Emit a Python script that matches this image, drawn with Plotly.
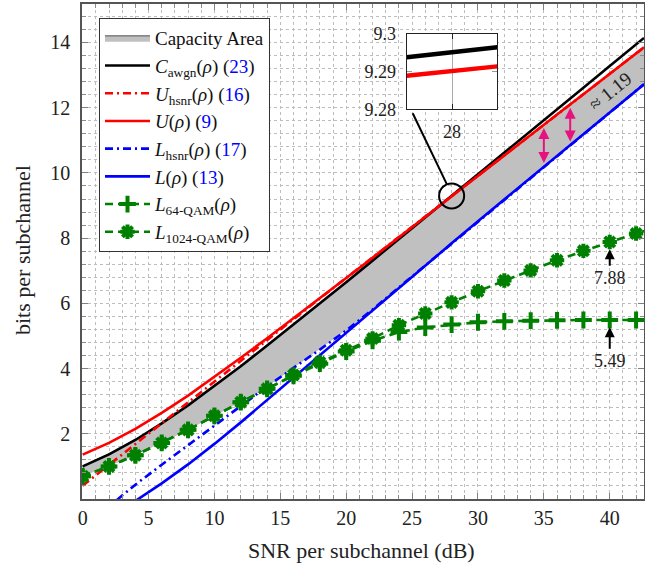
import numpy as np
import plotly.graph_objects as go

# ---------------- data ----------------
X_BOUND = [0, 2, 4, 6, 8, 10, 12, 14, 16, 18, 20, 22, 24, 26, 28, 30, 32, 34, 36, 38, 40, 42, 42.6]
C_AWGN = [1.00, 1.37, 1.81, 2.32, 2.87, 3.46, 4.07, 4.71, 5.35, 6.00, 6.65, 7.31, 7.97, 8.63,
          9.295, 9.96, 10.62, 11.29, 11.95, 12.61, 13.28, 13.94, 14.14]
U_UP = [1.36, 1.72, 2.15, 2.64, 3.17, 3.74, 4.33, 4.93, 5.54, 6.16, 6.78, 7.40, 8.03, 8.66,
        9.29, 9.91, 10.54, 11.17, 11.79, 12.41, 13.04, 13.66, 13.85]
U_HSNR = [0.41, 1.05, 1.69, 2.32, 2.95, 3.59, 4.23, 4.88, 5.52, 6.15, 6.78, 7.40, 8.03, 8.66,
          9.29, 9.91, 10.54, 11.17, 11.79, 12.41, 13.04, 13.66, 13.85]

X_L = [4, 6, 8, 10, 12, 14, 16, 18, 20, 22, 24, 26, 28, 30, 32, 34, 36, 38, 40, 42, 42.6]
L_LOW = [-0.06, 0.48, 1.06, 1.69, 2.35, 3.04, 3.73, 4.42, 5.11, 5.80, 6.48, 7.16, 7.84, 8.52,
         9.19, 9.86, 10.53, 11.19, 11.86, 12.53, 12.72]
X_LH = [2.6, 4, 6, 8, 10, 12, 14, 16, 18, 20, 22, 24, 26, 28, 30, 32, 34, 36, 38, 40, 42, 42.6]
L_HSNR = [-0.03, 0.44, 1.05, 1.66, 2.25, 2.85, 3.45, 4.02, 4.58, 5.17, 5.81, 6.49, 7.16, 7.84,
          8.52, 9.19, 9.86, 10.53, 11.19, 11.86, 12.53, 12.72]

X_QAM = [0, 2, 4, 6, 8, 10, 12, 14, 16, 18, 20, 22, 24, 26, 28, 30, 32, 34, 36, 38, 40, 42, 44]
QAM64 = [0.70, 1.00, 1.34, 1.72, 2.12, 2.55, 2.97, 3.38, 3.78, 4.15, 4.52, 4.85, 5.12, 5.26,
         5.35, 5.42, 5.45, 5.47, 5.48, 5.49, 5.49, 5.49, 5.49]
QAM1024 = [0.70, 1.00, 1.34, 1.72, 2.12, 2.55, 2.97, 3.38, 3.80, 4.19, 4.56, 4.92, 5.33, 5.69,
           6.03, 6.37, 6.70, 7.01, 7.32, 7.61, 7.88, 8.14, 8.39]

# inset (zoom at 28 dB)
INSET_X = [27.996, 28.004]
INSET_C = [9.2938, 9.2965]
INSET_U = [9.2889, 9.2914]

X_TICKS = [0, 5, 10, 15, 20, 25, 30, 35, 40]
Y_TICKS = [2, 4, 6, 8, 10, 12, 14]
INSET_YTICKS = [9.28, 9.29, 9.30]
INSET_YTEXT = ["9.28", "9.29", "9.3"]
INSET_XTICKS = [28]

ZOOM_X = 28
GAP_X = [35, 37]
LABEL_X = 40
LABEL_64 = "5.49"
LABEL_1024 = "7.88"
GAP_TEXT = "≈ 1.19"
X_TITLE = "SNR per subchannel (dB)"
Y_TITLE = "bits per subchannel"

# ---------------- derived capacity area ----------------
grid = np.linspace(0, 42.6, 427)
upper = np.minimum(np.interp(grid, X_BOUND, C_AWGN), np.interp(grid, X_BOUND, U_UP))
lower = np.maximum.reduce([
    np.interp(grid, X_QAM, QAM1024),
    np.interp(grid, X_QAM, QAM64),
    np.interp(grid, X_L, L_LOW, left=-np.inf),
    np.interp(grid, X_LH, L_HSNR, left=-np.inf),
])

FONT = "Liberation Serif"
RED = "#ff0000"
BLUE = "#0000ff"
GREEN = "#008000"
MAG = "#e6137f"

fig = go.Figure()

fig.add_trace(go.Scatter(x=grid, y=lower, mode="lines", line=dict(width=0, color="#c0c0c0"),
                         showlegend=False, hoverinfo="skip"))
fig.add_trace(go.Scatter(x=grid, y=upper, mode="lines", fill="tonexty", fillcolor="#c0c0c0",
                         line=dict(width=1, color="#505050"), name="Capacity Area",
                         legendgroup="a"))

def lab(sym, sub, eq=None):
    s = f"<i>{sym}</i><sub>{sub}</sub>(<i>ρ</i>)" if sub else f"<i>{sym}</i>(<i>ρ</i>)"
    if eq is not None:
        s += f" (<span style='color:#0000ff'>{eq}</span>)"
    return s

fig.add_trace(go.Scatter(x=X_BOUND, y=C_AWGN, mode="lines", line=dict(color="black", width=2.6),
                         name=lab("C", "awgn", 23), legendgroup="b"))
fig.add_trace(go.Scatter(x=X_BOUND, y=U_HSNR, mode="lines",
                         line=dict(color=RED, width=2.6, dash="8px,4px,2px,4px"),
                         name=lab("U", "hsnr", 16), legendgroup="c"))
fig.add_trace(go.Scatter(x=X_BOUND, y=U_UP, mode="lines", line=dict(color=RED, width=2.6),
                         name=lab("U", None, 9), legendgroup="d"))
fig.add_trace(go.Scatter(x=X_LH, y=L_HSNR, mode="lines",
                         line=dict(color=BLUE, width=2.6, dash="8px,4px,2px,4px"),
                         name=lab("L", "hsnr", 17), legendgroup="e"))
fig.add_trace(go.Scatter(x=X_L, y=L_LOW, mode="lines", line=dict(color=BLUE, width=2.6),
                         name=lab("L", None, 13), legendgroup="f"))
fig.add_trace(go.Scatter(x=X_QAM, y=QAM64, mode="lines+markers",
                         line=dict(color=GREEN, width=2.6, dash="8px,5px"),
                         marker=dict(symbol="cross-thin-open", size=12,
                                     line=dict(color=GREEN, width=4)),
                         name="<i>L</i><sub>64-QAM</sub>(<i>ρ</i>)", legendgroup="g"))
fig.add_trace(go.Scatter(x=X_QAM, y=QAM1024, mode="lines+markers",
                         line=dict(color=GREEN, width=2.6, dash="8px,5px"),
                         marker=dict(symbol="asterisk-open", size=12,
                                     line=dict(color=GREEN, width=4)),
                         name="<i>L</i><sub>1024-QAM</sub>(<i>ρ</i>)", legendgroup="h"))

# inset traces
fig.add_trace(go.Scatter(x=INSET_X, y=INSET_C, mode="lines", line=dict(color="black", width=4.5),
                         xaxis="x2", yaxis="y2", showlegend=False))
fig.add_trace(go.Scatter(x=INSET_X, y=INSET_U, mode="lines", line=dict(color=RED, width=4.5),
                         xaxis="x2", yaxis="y2", showlegend=False))

# ---------------- layout ----------------
L_M, R_M, T_M, B_M = 82, 1, 4, 73
W, H = 645, 572
PW, PH = W - L_M - R_M, H - T_M - B_M

def px2paper(px, py):
    return (px - L_M) / PW, 1 - (py - T_M) / PH

grid_style = dict(showgrid=True, gridcolor="#bdbdbd", griddash="dot", gridwidth=1)

fig.update_layout(
    width=W, height=H,
    margin=dict(l=L_M, r=R_M, t=T_M, b=B_M, autoexpand=False),
    paper_bgcolor="white", plot_bgcolor="white",
    font=dict(family=FONT, color="#222", size=18),
    xaxis=dict(range=[-0.05, 42.6], tickmode="array", tickvals=X_TICKS, automargin=False,
               ticks="inside", ticklen=6, tickcolor="#808080", tickwidth=1,
               showline=True, linecolor="#555", linewidth=1.6, mirror="ticks",
               zeroline=False, tickfont=dict(size=20, family=FONT), ticklabelstandoff=0,
               minor=dict(tickmode="linear", tick0=0, dtick=1, ticks="inside", ticklen=4,
                          tickcolor="#8c8c8c", showgrid=True, gridcolor="#bdbdbd",
                          griddash="dot"),
               **grid_style),
    yaxis=dict(range=[0, 15.18], tickmode="array", tickvals=Y_TICKS, automargin=False,
               ticks="inside", ticklen=6, tickcolor="#808080", tickwidth=1,
               showline=True, linecolor="#555", linewidth=1.6, mirror="ticks",
               zeroline=False, tickfont=dict(size=20, family=FONT), ticklabelstandoff=6,
               minor=dict(tickmode="linear", tick0=0, dtick=0.4, ticks="inside", ticklen=4,
                          tickcolor="#8c8c8c", showgrid=True, gridcolor="#bdbdbd",
                          griddash="dot"),
               **grid_style),
    legend=dict(x=px2paper(99, 18)[0], y=px2paper(99, 18)[1], xanchor="left", yanchor="top",
                bgcolor="white", bordercolor="#333", borderwidth=1,
                font=dict(family=FONT, size=19, color="#111"),
                itemwidth=45, tracegroupgap=4, traceorder="normal"),
    showlegend=True,
)

ix0, iy0 = px2paper(406.7, 109.3)
ix1, iy1 = px2paper(497.3, 34)
fig.update_layout(
    xaxis2=dict(domain=[ix0, ix1], anchor="y2", range=[INSET_X[0], INSET_X[1]], automargin=False,
                tickmode="array", tickvals=INSET_XTICKS, ticktext=[str(v) for v in INSET_XTICKS],
                ticks="inside", ticklen=5, tickcolor="#222", showline=True, linecolor="#222",
                linewidth=1.4, mirror="ticks", showgrid=True, gridcolor="#aaaaaa", gridwidth=1,
                zeroline=False, tickfont=dict(size=18, family=FONT), ticklabelstandoff=6),
    yaxis2=dict(domain=[iy0, iy1], anchor="x2", range=[INSET_YTICKS[0], INSET_YTICKS[-1]],
                automargin=False,
                tickmode="array", tickvals=INSET_YTICKS, ticktext=INSET_YTEXT,
                ticks="inside", ticklen=5, tickcolor="#999", showline=True, linecolor="#222",
                linewidth=1.4, mirror="ticks", showgrid=False, zeroline=False,
                tickfont=dict(size=18, family=FONT), ticklabelstandoff=6),
)

# zoom circle + connector
cz = float(np.interp(ZOOM_X, X_BOUND, C_AWGN))
fig.add_shape(type="circle", xref="x", yref="y", xsizemode="pixel", ysizemode="pixel",
              xanchor=ZOOM_X, yanchor=cz, x0=-12.5, x1=12.5, y0=-12.5, y1=12.5,
              line=dict(color="black", width=2))
sx, sy = px2paper(446.9, 184.4)
ex, ey = px2paper(412.7, 113.3)
fig.add_shape(type="line", xref="paper", yref="paper", x0=sx, y0=sy, x1=ex, y1=ey,
              line=dict(color="black", width=2))

annotations = []
# axis titles
tx, ty = px2paper(361, 550)
annotations.append(dict(x=tx, y=ty, xref="paper", yref="paper", text=X_TITLE, showarrow=False,
                        xanchor="center", yanchor="middle",
                        font=dict(size=22, family=FONT, color="#222")))
tx, ty = px2paper(22, 250)
annotations.append(dict(x=tx, y=ty, xref="paper", yref="paper", text=Y_TITLE, showarrow=False,
                        xanchor="center", yanchor="middle",
                        textangle=-90, font=dict(size=22, family=FONT, color="#222")))
# magenta double arrows between U and L
for gx in GAP_X:
    top = float(np.interp(gx, X_BOUND, U_UP)) - 0.1
    bot = float(np.interp(gx, X_L, L_LOW)) + 0.06
    annotations.append(dict(x=gx, y=top, ax=gx, ay=bot, xref="x", yref="y", axref="x", ayref="y",
                            text="", showarrow=True, arrowside="end+start", arrowhead=2,
                            startarrowhead=2, arrowsize=1.1, startarrowsize=1.1,
                            arrowwidth=2, arrowcolor=MAG))
gy = (float(np.interp(LABEL_X, X_BOUND, U_UP)) + float(np.interp(LABEL_X, X_L, L_LOW))) / 2 + 0.05
annotations.append(dict(x=LABEL_X, y=gy, xref="x", yref="y", text=GAP_TEXT, showarrow=False,
                        textangle=-39, font=dict(size=19, family=FONT, color="#222")))
# value labels
for val, series, ay in [(LABEL_1024, QAM1024, 29), (LABEL_64, QAM64, 34)]:
    yv = float(np.interp(LABEL_X, X_QAM, series)) - 0.22
    annotations.append(dict(x=LABEL_X, y=yv, xref="x", yref="y", text=val, showarrow=True,
                            ax=0, ay=ay, arrowhead=2, arrowsize=1, arrowwidth=2,
                            arrowcolor="black", standoff=0, startstandoff=1,
                            font=dict(size=18, family=FONT, color="#222")))
fig.update_layout(annotations=annotations)

fig.write_html("out.html", config={"displayModeBar": False},
               post_script="document.body.style.margin='0';document.body.style.overflow='hidden';")
